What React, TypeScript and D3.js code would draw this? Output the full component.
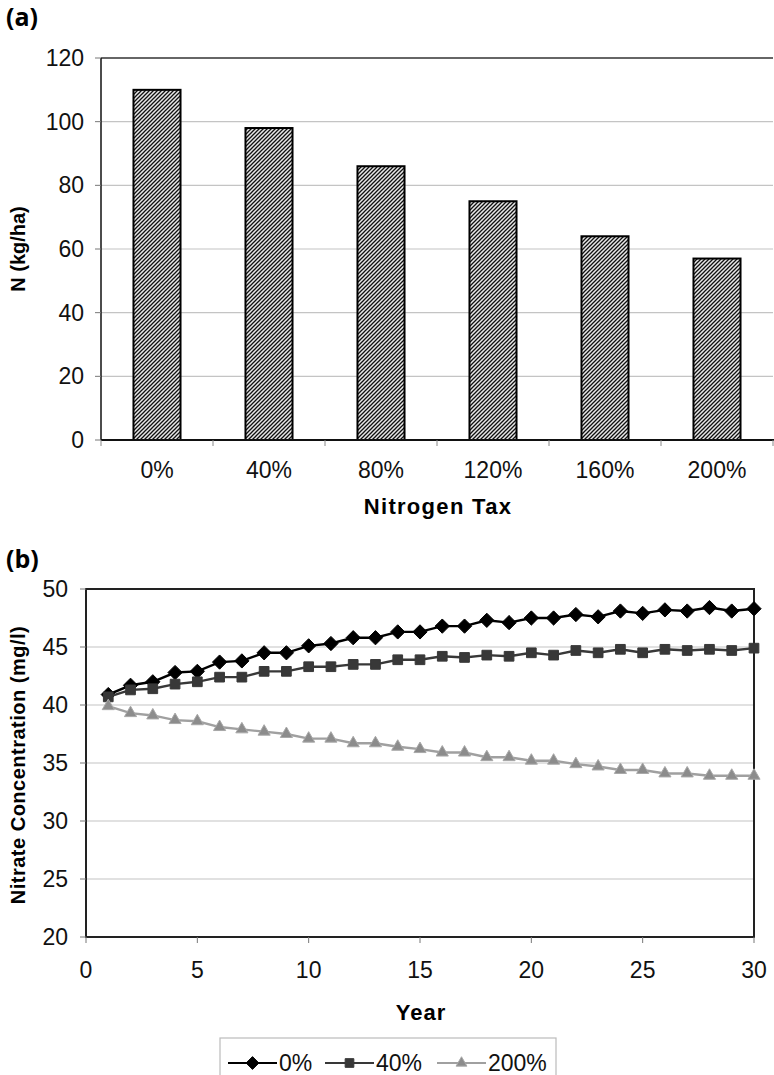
import React, { useEffect, useRef } from 'react';
import * as d3 from 'd3';

// (a) nitrogen application per tax level
const taxLevels = ['0%', '40%', '80%', '120%', '160%', '200%'];
const nApplied = [110, 98, 86, 75, 64, 57];
const nTicks = [0, 20, 40, 60, 80, 100, 120];

// (b) nitrate concentration over 30 years
const years = d3.range(1, 31);
const nitrate0 = [40.9, 41.7, 42.0, 42.8, 42.9, 43.7, 43.8, 44.5, 44.5, 45.1, 45.3, 45.8, 45.8, 46.3, 46.3,
  46.8, 46.8, 47.3, 47.1, 47.5, 47.5, 47.8, 47.6, 48.1, 47.9, 48.2, 48.1, 48.4, 48.1, 48.3];
const nitrate40 = [40.7, 41.3, 41.4, 41.8, 42.0, 42.4, 42.4, 42.9, 42.9, 43.3, 43.3, 43.5, 43.5, 43.9, 43.9,
  44.2, 44.1, 44.3, 44.2, 44.5, 44.3, 44.7, 44.5, 44.8, 44.5, 44.8, 44.7, 44.8, 44.7, 44.9];
const nitrate200 = [39.9, 39.3, 39.1, 38.7, 38.6, 38.1, 37.9, 37.7, 37.5, 37.1, 37.1, 36.7, 36.7, 36.4, 36.2,
  35.9, 35.9, 35.5, 35.5, 35.2, 35.2, 34.9, 34.7, 34.4, 34.4, 34.1, 34.1, 33.9, 33.9, 33.9];
const seriesNames = ['0%', '40%', '200%'];
const yearTicks = [0, 5, 10, 15, 20, 25, 30];
const concTicks = [20, 25, 30, 35, 40, 45, 50];

const FONT = '"Liberation Sans", Arial, sans-serif';
const TICK = 23;

export default function App() {
  const ref = useRef<SVGSVGElement>(null);

  useEffect(() => {
    const svg = d3.select(ref.current);
    svg.selectAll('*').remove();

    // hatch pattern for bars
    const defs = svg.append('defs');
    const pat = defs.append('pattern')
      .attr('id', 'hatch')
      .attr('patternUnits', 'userSpaceOnUse')
      .attr('width', 4)
      .attr('height', 4);
    pat.append('rect').attr('width', 4).attr('height', 4).attr('fill', '#e8e8e8');
    pat.append('path')
      .attr('d', 'M-1,1 l2,-2 M0,4 l4,-4 M3,5 l2,-2')
      .attr('stroke', '#111')
      .attr('stroke-width', 1.3);

    // ---------- chart (a) ----------
    const xa = d3.scaleBand<string>().domain(taxLevels).range([101, 773]).paddingInner(0.58).paddingOuter(0.29);
    const ya = d3.scaleLinear().domain([0, 120]).range([440, 58]);
    const ga = svg.append('g');

    ga.append('text').attr('x', 6).attr('y', 26)
      .attr('font-family', '"Open Sans", sans-serif').attr('font-weight', 'bold').attr('font-size', 25)
      .text('(a)');

    ga.selectAll('line.grid').data(nTicks.filter(d => d > 0 && d < 120)).enter().append('line')
      .attr('x1', 101).attr('x2', 773)
      .attr('y1', d => ya(d)).attr('y2', d => ya(d))
      .attr('stroke', '#c4c4c4').attr('stroke-width', 1.2);
    ga.append('line').attr('x1', 101).attr('x2', 773).attr('y1', ya(120)).attr('y2', ya(120))
      .attr('stroke', '#333').attr('stroke-width', 1.5);

    ga.selectAll('rect.bar').data(nApplied).enter().append('rect')
      .attr('x', (d, i) => xa(taxLevels[i])!)
      .attr('width', xa.bandwidth())
      .attr('y', d => ya(d))
      .attr('height', d => ya(0) - ya(d))
      .attr('fill', 'url(#hatch)')
      .attr('stroke', '#000').attr('stroke-width', 2);

    // axes
    ga.append('line').attr('x1', 101).attr('x2', 101).attr('y1', ya(120)).attr('y2', ya(0))
      .attr('stroke', '#111').attr('stroke-width', 1.5);
    ga.append('line').attr('x1', 101).attr('x2', 774).attr('y1', ya(0)).attr('y2', ya(0))
      .attr('stroke', '#111').attr('stroke-width', 2);
    ga.selectAll('line.yt').data(nTicks).enter().append('line')
      .attr('x1', 95).attr('x2', 101).attr('y1', d => ya(d)).attr('y2', d => ya(d))
      .attr('stroke', '#777').attr('stroke-width', 1);
    const bounds = taxLevels.map(c => xa(c)! - xa.step() * xa.paddingInner() / 2).concat([773]);
    ga.selectAll('line.xt').data(bounds).enter().append('line')
      .attr('x1', d => d).attr('x2', d => d).attr('y1', ya(0)).attr('y2', ya(0) + 6)
      .attr('stroke', '#888').attr('stroke-width', 1);
    ga.selectAll('text.yl').data(nTicks).enter().append('text')
      .attr('x', 84).attr('y', d => ya(d) + 8)
      .attr('text-anchor', 'end').attr('font-family', FONT).attr('font-size', TICK)
      .attr('fill', '#111').text(d => d);
    ga.selectAll('text.xl').data(taxLevels).enter().append('text')
      .attr('x', d => xa(d)! + xa.bandwidth() / 2).attr('y', 478)
      .attr('text-anchor', 'middle').attr('font-family', FONT).attr('font-size', TICK)
      .attr('fill', '#111').text(d => d);
    ga.append('text').attr('x', 438).attr('y', 514)
      .attr('text-anchor', 'middle').attr('font-family', FONT).attr('font-weight', 'bold')
      .attr('font-size', 22).attr('letter-spacing', 1.3).text('Nitrogen Tax');
    ga.append('text').attr('transform', 'translate(25,249) rotate(-90)')
      .attr('text-anchor', 'middle').attr('font-family', FONT).attr('font-weight', 'bold')
      .attr('font-size', 20).text('N (kg/ha)');

    // ---------- chart (b) ----------
    const xb = d3.scaleLinear().domain([0, 30]).range([86, 754]);
    const yb = d3.scaleLinear().domain([20, 50]).range([937, 589]);
    const gb = svg.append('g');

    gb.append('text').attr('x', 6).attr('y', 568)
      .attr('font-family', '"Open Sans", sans-serif').attr('font-weight', 'bold').attr('font-size', 25)
      .text('(b)');

    gb.selectAll('line.grid').data(concTicks.filter(d => d > 20 && d < 50)).enter().append('line')
      .attr('x1', xb(0)).attr('x2', xb(30))
      .attr('y1', d => yb(d)).attr('y2', d => yb(d))
      .attr('stroke', '#c4c4c4').attr('stroke-width', 1.2);
    gb.append('rect').attr('x', xb(0)).attr('y', yb(50))
      .attr('width', xb(30) - xb(0)).attr('height', yb(20) - yb(50))
      .attr('fill', 'none').attr('stroke', '#222').attr('stroke-width', 2);
    gb.selectAll('line.yt').data(concTicks).enter().append('line')
      .attr('x1', xb(0) - 6).attr('x2', xb(0)).attr('y1', d => yb(d)).attr('y2', d => yb(d))
      .attr('stroke', '#777').attr('stroke-width', 1);
    gb.selectAll('line.xt').data(yearTicks).enter().append('line')
      .attr('x1', d => xb(d)).attr('x2', d => xb(d)).attr('y1', yb(20)).attr('y2', yb(20) + 6)
      .attr('stroke', '#777').attr('stroke-width', 1);
    gb.selectAll('text.yl').data(concTicks).enter().append('text')
      .attr('x', 68).attr('y', d => yb(d) + 8)
      .attr('text-anchor', 'end').attr('font-family', FONT).attr('font-size', TICK)
      .attr('fill', '#111').text(d => d);
    gb.selectAll('text.xl').data(yearTicks).enter().append('text')
      .attr('x', d => xb(d)).attr('y', 978)
      .attr('text-anchor', 'middle').attr('font-family', FONT).attr('font-size', TICK)
      .attr('fill', '#111').text(d => d);
    gb.append('text').attr('x', 421).attr('y', 1020)
      .attr('text-anchor', 'middle').attr('font-family', FONT).attr('font-weight', 'bold')
      .attr('font-size', 22).attr('letter-spacing', 1).text('Year');
    gb.append('text').attr('transform', 'translate(25,765) rotate(-90)')
      .attr('text-anchor', 'middle').attr('font-family', FONT).attr('font-weight', 'bold')
      .attr('font-size', 20).attr('letter-spacing', 0.5).text('Nitrate Concentration (mg/l)');

    const styles = [
      { line: '#000', fill: '#000', stroke: '#000', sym: d3.symbolDiamond2, size: 130 },
      { line: '#383838', fill: '#383838', stroke: '#383838', sym: d3.symbolSquare2, size: 120 },
      { line: '#a0a0a0', fill: '#8c8c8c', stroke: '#a8a8a8', sym: d3.symbolTriangle2, size: 105 },
    ];
    const allSeries = [nitrate0, nitrate40, nitrate200];
    const lineGen = d3.line<number>().x((d, i) => xb(years[i])).y(d => yb(d));

    allSeries.forEach((vals, k) => {
      const s = styles[k];
      const sym = d3.symbol().type(s.sym).size(s.size);
      const g = gb.append('g');
      g.append('path').attr('d', lineGen(vals)!).attr('fill', 'none')
        .attr('stroke', s.line).attr('stroke-width', 2.4);
      g.selectAll('path.m').data(vals).enter().append('path')
        .attr('transform', (d, i) => `translate(${xb(years[i])},${yb(d)})`)
        .attr('d', sym()!)
        .attr('fill', s.fill).attr('stroke', s.stroke).attr('stroke-width', 1);
    });

    // legend
    const lg = gb.append('g');
    lg.append('rect').attr('x', 220).attr('y', 1038).attr('width', 336).attr('height', 60)
      .attr('fill', '#fff').attr('stroke', '#bbb').attr('stroke-width', 1.2);
    const legendX = [228, 325, 437];
    seriesNames.forEach((name, k) => {
      const s = styles[k];
      const x0 = legendX[k];
      const sym = d3.symbol().type(s.sym).size(s.size * 0.8);
      lg.append('line').attr('x1', x0).attr('x2', x0 + 49).attr('y1', 1063).attr('y2', 1063)
        .attr('stroke', s.line).attr('stroke-width', 2);
      lg.append('path').attr('transform', `translate(${x0 + 24.5},1063)`).attr('d', sym()!)
        .attr('fill', s.fill).attr('stroke', s.stroke).attr('stroke-width', 1);
      lg.append('text').attr('x', x0 + 51).attr('y', 1071)
        .attr('font-family', FONT).attr('font-size', TICK).attr('fill', '#111').text(name);
    });
  }, []);

  return (
    <svg ref={ref} width={774} height={1075}
      style={{ position: 'absolute', left: 0, top: 0, background: '#fff' }} />
  );
}
